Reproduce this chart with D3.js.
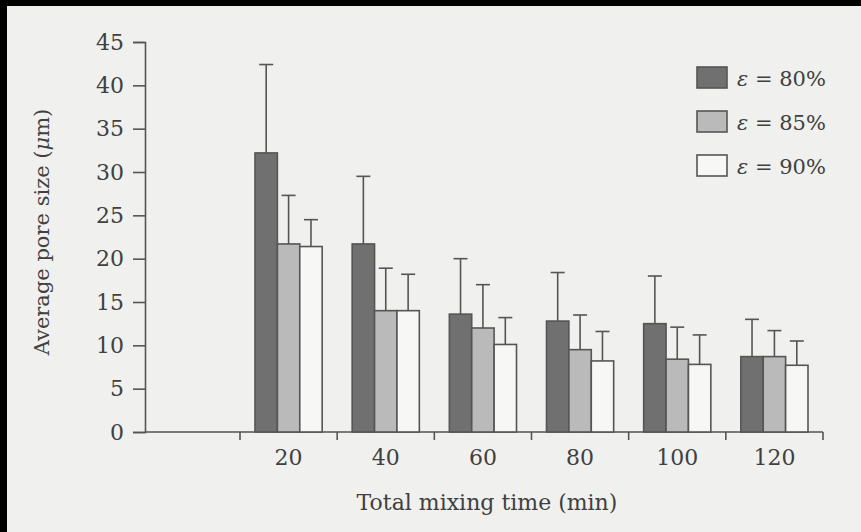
<!DOCTYPE html>
<html>
<head>
<meta charset="utf-8">
<script src="https://cdn.jsdelivr.net/npm/d3@7"></script>
<style>
  body { margin: 0; background: #f0f0ef; }
  svg { display: block; }
  text { font-family: "DejaVu Serif", serif; fill: #404040; }
</style>
</head>
<body>
<svg id="chart" width="861" height="532"></svg>
<script>
const times = ["20", "40", "60", "80", "100", "120"];
const series = ["80", "85", "90"];
const colors = { "80": "#707070", "85": "#bababa", "90": "#f7f7f5" };

// mean pore size (um) for each porosity
const means = {
  "80": [32.2, 21.7, 13.6, 12.8, 12.5, 8.7],
  "85": [21.7, 14.0, 12.0, 9.5, 8.4, 8.7],
  "90": [21.4, 14.0, 10.1, 8.2, 7.8, 7.7],
};
// upper end of error bars
const errTop = {
  "80": [42.4, 29.5, 20.0, 18.4, 18.0, 13.0],
  "85": [27.3, 18.9, 17.0, 13.5, 12.1, 11.7],
  "90": [24.5, 18.2, 13.2, 11.6, 11.2, 10.5],
};
const yTicks = d3.range(0, 46, 5);

const svg = d3.select("#chart");
const ink = "#555";

svg.append("rect").attr("width", 861).attr("height", 532).attr("fill", "#f0f0ef");
// scan frame
svg.append("rect").attr("x", 0).attr("y", 0).attr("width", 861).attr("height", 6).attr("fill", "#000");
svg.append("rect").attr("x", 0).attr("y", 0).attr("width", 7).attr("height", 532).attr("fill", "#000");

const y = d3.scaleLinear().domain([0, 45]).range([432, 42]);
const x = d3.scaleBand().domain(times).range([240, 823]);
const xInner = d3.scaleBand().domain(series).range([15, x.bandwidth() - 15]);

// y axis
const yAxis = svg.append("g")
  .attr("transform", "translate(145,0)")
  .call(d3.axisLeft(y).tickValues(yTicks).tickSize(12).tickPadding(9));
yAxis.select(".domain").attr("stroke", ink).attr("stroke-width", 1.6);
yAxis.selectAll(".tick line").attr("stroke", ink).attr("stroke-width", 1.6);
yAxis.selectAll(".tick text").attr("font-size", 22).attr("fill", "#404040")
  .style("font-family", "DejaVu Serif, serif");

// x axis: line from the y axis, ticks at band edges
svg.append("line").attr("x1", 145).attr("x2", x.range()[1])
  .attr("y1", y(0)).attr("y2", y(0)).attr("stroke", ink).attr("stroke-width", 1.6);
const edges = times.map(t => x(t)).concat([x.range()[1]]);
svg.selectAll(".xtick").data(edges).join("line")
  .attr("class", "xtick")
  .attr("x1", d => d).attr("x2", d => d)
  .attr("y1", y(0)).attr("y2", y(0) + 8)
  .attr("stroke", ink).attr("stroke-width", 1.6);
svg.selectAll(".xlabel").data(times).join("text")
  .attr("class", "xlabel")
  .attr("x", d => x(d) + x.bandwidth() / 2)
  .attr("y", 465)
  .attr("text-anchor", "middle")
  .attr("font-size", 22)
  .text(d => d);

// bars
const groups = svg.selectAll(".grp").data(times).join("g")
  .attr("class", "grp")
  .attr("transform", d => `translate(${x(d)},0)`);

series.forEach(s => {
  groups.append("line")
    .attr("x1", (d, i) => xInner(s) + xInner.bandwidth() / 2)
    .attr("x2", (d, i) => xInner(s) + xInner.bandwidth() / 2)
    .attr("y1", (d, i) => y(means[s][i]))
    .attr("y2", (d, i) => y(errTop[s][i]))
    .attr("stroke", ink).attr("stroke-width", 1.6);
  groups.append("line")
    .attr("x1", (d, i) => xInner(s) + xInner.bandwidth() / 2 - 7)
    .attr("x2", (d, i) => xInner(s) + xInner.bandwidth() / 2 + 7)
    .attr("y1", (d, i) => y(errTop[s][i]))
    .attr("y2", (d, i) => y(errTop[s][i]))
    .attr("stroke", ink).attr("stroke-width", 1.6);
  groups.append("rect")
    .attr("x", xInner(s))
    .attr("width", xInner.bandwidth())
    .attr("y", (d, i) => y(means[s][i]))
    .attr("height", (d, i) => y(0) - y(means[s][i]))
    .attr("fill", colors[s])
    .attr("stroke", ink).attr("stroke-width", 1.6);
});

// axis titles
svg.append("text")
  .attr("x", 487).attr("y", 510)
  .attr("text-anchor", "middle")
  .attr("font-size", 22)
  .text("Total mixing time (min)");

svg.append("text")
  .attr("transform", "translate(49,232) rotate(-90)")
  .attr("text-anchor", "middle")
  .attr("font-size", 21)
  .html("Average pore size (<tspan font-style='italic'>μ</tspan>m)");

// legend
const legend = svg.append("g").attr("transform", "translate(697,67)");
const leg = legend.selectAll("g").data(series).join("g")
  .attr("transform", (d, i) => `translate(0,${i * 44})`);
leg.append("rect")
  .attr("width", 30).attr("height", 21)
  .attr("fill", d => colors[d])
  .attr("stroke", ink).attr("stroke-width", 1.6);
leg.append("text")
  .attr("x", 40).attr("y", 19)
  .attr("font-size", 21)
  .html(d => `<tspan font-style="italic">ε</tspan> = ${d}%`);
</script>
</body>
</html>
